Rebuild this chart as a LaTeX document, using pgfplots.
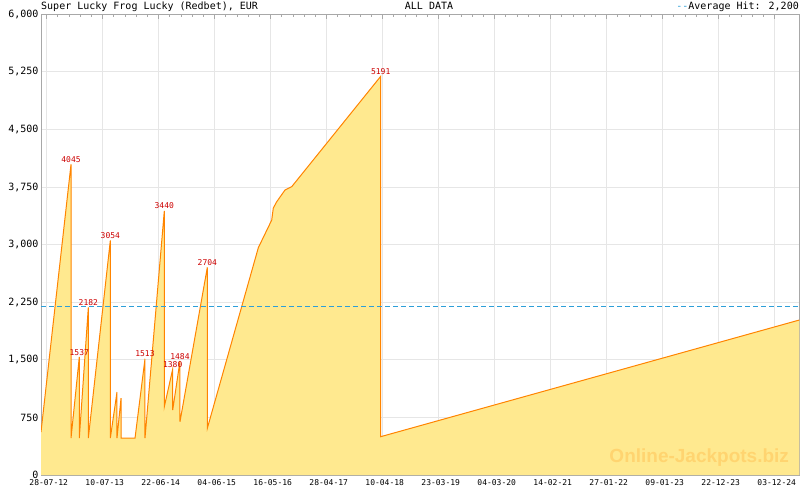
\documentclass[border=0pt]{standalone}
\usepackage{fontspec}
\setmainfont{DejaVu Sans Mono}
\newfontfamily\wmfont{Liberation Sans}
\usepackage{pgfplots}
\usepackage{pgfplotstable}
\pgfplotsset{compat=1.18}
\definecolor{fillc}{HTML}{FFE98F}
\definecolor{linec}{HTML}{FF8400}
\definecolor{gridc}{HTML}{E6E6E6}
\definecolor{axisc}{HTML}{A8A8A8}
\definecolor{avgc}{HTML}{2E9FD8}
\definecolor{peakc}{HTML}{CC0000}
\definecolor{wmc}{HTML}{FFD470}

\pgfplotstableread{
x v
-0.102 560
0.434 4045
0.434 480
0.582 1537
0.582 480
0.743 2182
0.743 480
1.136 3054
1.136 480
1.255 1080
1.255 480
1.327 1000
1.327 480
1.577 480
1.755 1513
1.755 480
2.100 3440
2.100 889
2.250 1380
2.250 846
2.380 1484
2.380 694
2.868 2704
2.868 608
3.779 2960
4.018 3320
4.046 3476
4.107 3558
4.255 3711
4.375 3754
5.964 5191
5.964 499
13.439 2018
}\jackpot

\begin{document}
\begin{tikzpicture}
\begin{axis}[
  at={(41pt,15pt)}, anchor=south west,
  scale only axis, width=758.3pt, height=460.8pt,
  xmin=-0.102, xmax=13.439, ymin=0, ymax=6000,
  axis line style={draw=axisc, line width=1pt},
  grid=major, major grid style={draw=gridc, line width=1pt},
  xtick={0,...,13},
  xticklabels={28-07-12,10-07-13,22-06-14,04-06-15,16-05-16,28-04-17,10-04-18,23-03-19,04-03-20,14-02-21,27-01-22,09-01-23,22-12-23,03-12-24},
  minor x tick num=4,
  ytick={0,750,...,6000},
  tick align=inside,
  tick style={draw=axisc, line width=1pt},
  major tick length=5pt, minor tick length=3pt,
  y tick style={draw=none},
  xticklabel style={font=\fontsize{8}{9}\selectfont, yshift=-1.5pt, xshift=2pt},
  yticklabel style={font=\fontsize{10}{11}\selectfont, xshift=1pt},
  /pgf/number format/assume math mode=true,
  /pgf/number format/1000 sep={,},
  scaled y ticks=false,
  clip=true,
]
\addplot[draw=none, fill=fillc] table[x=x, y=v] {\jackpot} \closedcycle;
\addplot[linec, line width=1pt] table[x=x, y=v] {\jackpot};
\addplot[avgc, line width=1pt, dash pattern=on 5pt off 3pt] coordinates {(-0.102,2200) (13.439,2200)};
\node[anchor=center, text=wmc, font=\wmfont\bfseries\fontsize{19}{21}\selectfont] at (rel axis cs:0.868,0.037) {Online-Jackpots.biz};
\begin{scope}[every node/.style={anchor=south, text=peakc, font=\fontsize{8}{9}\selectfont, inner sep=1.5pt}]
\node at (axis cs:0.434,4045) {4045};
\node at (axis cs:0.582,1537) {1537};
\node at (axis cs:0.743,2182) {2182};
\node at (axis cs:1.136,3054) {3054};
\node at (axis cs:1.755,1513) {1513};
\node at (axis cs:2.100,3440) {3440};
\node at (axis cs:2.250,1380) {1380};
\node at (axis cs:2.380,1484) {1484};
\node at (axis cs:2.868,2704) {2704};
\node at (axis cs:5.964,5191) {5191};
\end{scope}
\end{axis}
\node[anchor=base west, font=\fontsize{10}{12}\selectfont, inner sep=0pt] at (41pt,480pt) {Super Lucky Frog Lucky (Redbet), EUR};
\node[anchor=base, font=\fontsize{10}{12}\selectfont, inner sep=0pt] at (429pt,480pt) {ALL DATA};
\node[anchor=base east, font=\fontsize{10}{12}\selectfont, inner sep=0pt] at (799pt,480pt) {\textcolor{avgc}{-{}-}Average Hit: 2,200};
\pgfresetboundingbox
\path[use as bounding box] (0pt,0pt) rectangle (800pt,490pt);
\end{tikzpicture}
\end{document}
